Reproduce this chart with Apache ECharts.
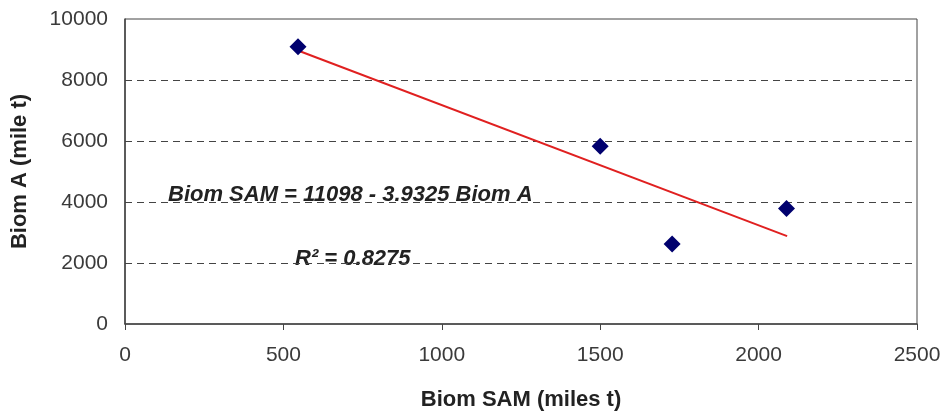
<!DOCTYPE html>
<html>
<head>
<meta charset="utf-8">
<script src="https://cdn.jsdelivr.net/npm/echarts@6/dist/echarts.min.js"></script>
<style>
  html, body { margin: 0; padding: 0; background: #fff; }
  #chart { width: 944px; height: 416px; }
</style>
</head>
<body>
<div id="chart"></div>
<script>
// observed points (Biom SAM, Biom A)
const samValues = [546, 1500, 1727, 2088];
const biomAValues = [9090, 5830, 2620, 3790];
// linear trend endpoints
const trendX = [550, 2090];
const trendY = [8950, 2880];
const xTicks = [0, 500, 1000, 1500, 2000, 2500];
const yTicks = [0, 2000, 4000, 6000, 8000, 10000];
const eqText = 'Biom SAM = 11098 - 3.9325 Biom A';
const r2Text = 'R² = 0.8275';

const chart = echarts.init(document.getElementById('chart'));

const labelFont = {
  fontFamily: 'Liberation Sans, Arial, sans-serif',
  fontSize: 21,
  color: '#3a3a3a',
  formatter: v => String(v)
};
const titleFont = {
  fontFamily: 'Liberation Sans, Arial, sans-serif',
  fontSize: 22,
  fontWeight: 'bold',
  color: '#222'
};

chart.setOption({
  animation: false,
  grid: {
    left: 125, right: 27, top: 19, bottom: 91,
    show: true, borderColor: '#444', borderWidth: 1
  },
  xAxis: {
    type: 'value',
    min: xTicks[0], max: xTicks[xTicks.length - 1], interval: 500,
    name: 'Biom SAM (miles t)',
    nameLocation: 'middle', nameGap: 65,
    nameTextStyle: titleFont,
    axisLine: { show: true, lineStyle: { color: '#444', width: 1.5 } },
    axisTick: { show: true, length: 6, lineStyle: { color: '#444' } },
    axisLabel: Object.assign({ margin: 21 }, labelFont),
    splitLine: { show: false }
  },
  yAxis: {
    type: 'value',
    min: yTicks[0], max: yTicks[yTicks.length - 1], interval: 2000,
    name: 'Biom A (mile t)',
    nameLocation: 'middle', nameGap: 94, nameRotate: 90,
    nameTextStyle: titleFont,
    axisLine: { show: true, lineStyle: { color: '#444', width: 1.5 } },
    axisTick: { show: false },
    axisLabel: Object.assign({ margin: 17 }, labelFont),
    splitLine: {
      show: true,
      showMinLine: false, showMaxLine: false,
      lineStyle: { color: '#444', type: [7, 5], width: 1.2 }
    }
  },
  graphic: [
    {
      type: 'text', left: 168, top: 184,
      style: {
        text: eqText,
        font: 'italic bold 22px "Liberation Sans", Arial, sans-serif',
        fill: '#222'
      }
    },
    {
      type: 'text', left: 295, top: 248,
      style: {
        text: r2Text,
        font: 'italic bold 22px "Liberation Sans", Arial, sans-serif',
        fill: '#222'
      }
    }
  ],
  series: [
    {
      type: 'line',
      data: trendX.map((x, i) => [x, trendY[i]]),
      showSymbol: false,
      lineStyle: { color: '#E02020', width: 2 },
      z: 2
    },
    {
      type: 'scatter',
      data: samValues.map((x, i) => [x, biomAValues[i]]),
      symbol: 'diamond',
      symbolSize: 17,
      itemStyle: { color: '#00006e', opacity: 1 },
      z: 3
    }
  ]
});
</script>
</body>
</html>
